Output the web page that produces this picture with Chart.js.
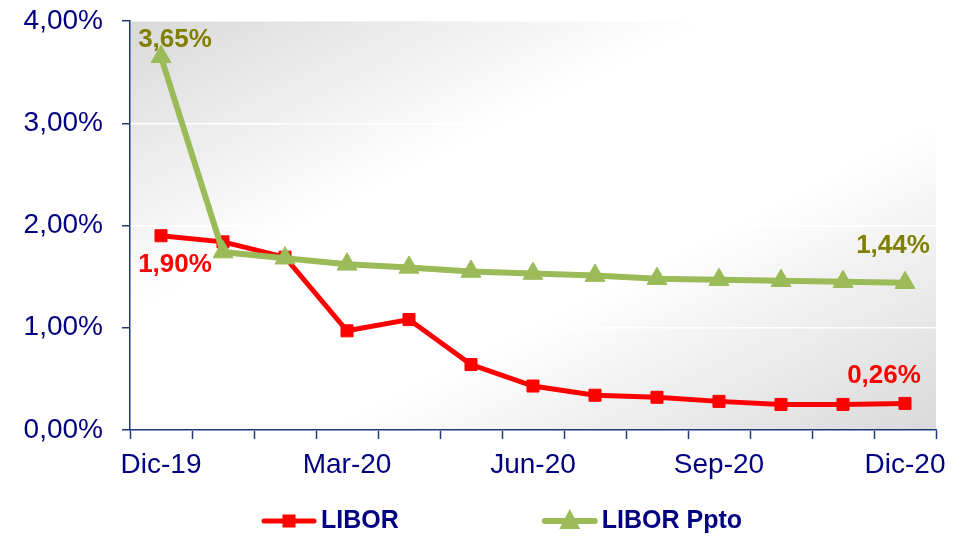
<!DOCTYPE html>
<html>
<head>
<meta charset="utf-8">
<script src="https://cdn.jsdelivr.net/npm/chart.js@4/dist/chart.umd.min.js"></script>
<style>
  html, body { margin: 0; padding: 0; background: #ffffff; }
  #wrap { width: 963px; height: 537px; position: relative; }
</style>
</head>
<body>
<div id="wrap"><canvas id="c" width="963" height="537"></canvas></div>
<script>
// ---- data ----
const categories = ["Dic-19","Ene-20","Feb-20","Mar-20","Abr-20","May-20","Jun-20","Jul-20","Ago-20","Sep-20","Oct-20","Nov-20","Dic-20"];
const libor      = [1.90, 1.84, 1.69, 0.97, 1.08, 0.64, 0.43, 0.34, 0.32, 0.28, 0.25, 0.25, 0.26];
const liborPpto  = [3.65, 1.74, 1.68, 1.62, 1.59, 1.55, 1.53, 1.51, 1.48, 1.47, 1.46, 1.45, 1.44];
const seriesNames = ["LIBOR", "LIBOR Ppto"];
const yTicks = [0, 1, 2, 3, 4];

const NAVY = '#000080';
const AXIS = '#1f3a7a';
const RED = '#ff0000';
const GREEN = '#9bbb59';
const OLIVE = '#808000';
const FONT = '"Liberation Sans", Arial, sans-serif';

const fmt = v => v.toFixed(2).replace('.', ',') + '%';

const bgPlugin = {
  id: 'bg',
  beforeDraw(chart) {
    const {ctx, chartArea: a} = chart;
    ctx.save();
    ctx.translate(a.left, a.top);
    ctx.scale(a.right - a.left, a.bottom - a.top);
    const g = ctx.createLinearGradient(0, 0, 1, 1);
    g.addColorStop(0, '#d9d9d9');
    g.addColorStop(0.36, '#ffffff');
    g.addColorStop(0.62, '#ffffff');
    g.addColorStop(1, '#d9d9d9');
    ctx.fillStyle = g;
    ctx.fillRect(0, 0, 1, 1);
    ctx.restore();
  }
};

const labelPlugin = {
  id: 'valueLabels',
  afterDatasetsDraw(chart, args, opts) {
    const {ctx} = chart;
    ctx.save();
    ctx.font = 'bold 26px ' + FONT;
    ctx.textAlign = 'center';
    ctx.textBaseline = 'middle';
    opts.items.forEach(it => {
      const pt = chart.getDatasetMeta(it.ds).data[it.idx];
      const v = chart.data.datasets[it.ds].data[it.idx];
      ctx.fillStyle = it.color;
      ctx.fillText(fmt(v), pt.x + it.dx, pt.y + it.dy);
    });
    ctx.restore();
  }
};

const legendPlugin = {
  id: 'customLegend',
  afterDraw(chart, args, opts) {
    const {ctx} = chart;
    ctx.save();
    ctx.font = 'bold 25px ' + FONT;
    ctx.textBaseline = 'middle';
    ctx.textAlign = 'left';
    let x = opts.x;
    const y = opts.y;
    chart.data.datasets.forEach((ds, i) => {
      const lw = 54;
      ctx.strokeStyle = ds.borderColor;
      ctx.lineWidth = ds.borderWidth;
      ctx.lineCap = 'round';
      ctx.beginPath();
      ctx.moveTo(x + 2, y);
      ctx.lineTo(x + lw - 2, y);
      ctx.stroke();
      ctx.fillStyle = ds.pointBackgroundColor;
      const cx = x + lw / 2;
      if (ds.pointStyle === 'rect') {
        ctx.fillRect(cx - 6.5, y - 6.5, 13, 13);
      } else {
        const r = 12;
        ctx.beginPath();
        ctx.moveTo(cx, y - r);
        ctx.lineTo(cx + r * 0.866, y + r * 0.5 + 2);
        ctx.lineTo(cx - r * 0.866, y + r * 0.5 + 2);
        ctx.closePath();
        ctx.fill();
      }
      ctx.fillStyle = NAVY;
      ctx.fillText(ds.label, x + lw + 5, y);
      x += lw + 5 + ctx.measureText(ds.label).width + opts.gap;
    });
    ctx.restore();
  }
};

new Chart(document.getElementById('c'), {
  type: 'line',
  data: {
    labels: categories,
    datasets: [
      {
        label: seriesNames[0],
        data: libor,
        borderColor: RED,
        backgroundColor: RED,
        borderWidth: 5,
        pointStyle: 'rect',
        pointRadius: 8.5,
        pointBackgroundColor: RED,
        pointBorderColor: RED,
        pointBorderWidth: 1,
        tension: 0,
        order: 2
      },
      {
        label: seriesNames[1],
        data: liborPpto,
        borderColor: GREEN,
        backgroundColor: GREEN,
        borderWidth: 6,
        pointStyle: 'triangle',
        pointRadius: 11.5,
        pointBackgroundColor: GREEN,
        pointBorderColor: GREEN,
        pointBorderWidth: 1,
        tension: 0,
        order: 1
      }
    ]
  },
  options: {
    responsive: false,
    animation: false,
    devicePixelRatio: 1,
    layout: { padding: { left: 0, right: 27, top: 21, bottom: 0 } },
    plugins: {
      legend: { display: false },
      tooltip: { enabled: false },
      valueLabels: {
        items: [
          { ds: 1, idx: 0, dx: 14, dy: -17, color: OLIVE },
          { ds: 0, idx: 0, dx: 14, dy: 29, color: RED },
          { ds: 1, idx: 12, dx: -12, dy: -37, color: OLIVE },
          { ds: 0, idx: 12, dx: -21, dy: -28, color: RED }
        ]
      },
      customLegend: { x: 262, y: 521, gap: 144 }
    },
    scales: {
      x: {
        offset: true,
        grid: {
          offset: true,
          drawOnChartArea: false,
          tickLength: 9,
          tickColor: AXIS,
          tickWidth: 1.5
        },
        border: { color: AXIS, width: 1.5 },
        ticks: {
          autoSkip: false,
          maxRotation: 0,
          padding: 9,
          color: NAVY,
          font: { family: FONT, size: 28 },
          callback: function(val, idx) { return idx % 3 === 0 ? categories[idx] : ''; }
        },
        afterFit: s => { s.height = 107; s.paddingLeft = 0; s.paddingRight = 0; }
      },
      y: {
        min: yTicks[0],
        max: yTicks[yTicks.length - 1],
        afterBuildTicks: s => { s.ticks = yTicks.map(v => ({ value: v })); },
        grid: {
          color: '#ffffff',
          lineWidth: 1.5,
          tickLength: 8,
          tickColor: AXIS,
          tickWidth: 1.5
        },
        border: { color: AXIS, width: 1.5 },
        ticks: {
          padding: 19,
          color: NAVY,
          font: { family: FONT, size: 28 },
          callback: v => fmt(v)
        },
        afterFit: s => { s.width = 130; s.paddingTop = 0; s.paddingBottom = 0; }
      }
    }
  },
  plugins: [bgPlugin, labelPlugin, legendPlugin]
});
</script>
</body>
</html>
